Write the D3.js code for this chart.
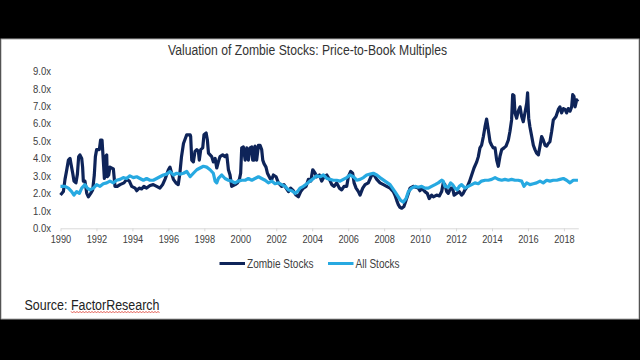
<!DOCTYPE html>
<html><head><meta charset="utf-8">
<script src="https://cdn.jsdelivr.net/npm/d3@7"></script>
<style>
html,body{margin:0;padding:0;background:#000;}
svg{display:block;}
text{font-family:"Liberation Sans Narrow","Arial Narrow","Liberation Sans",Arial,sans-serif;fill:#404040;}
</style></head>
<body><svg id="chart" width="640" height="360"></svg>
<script>
const title = "Valuation of Zombie Stocks: Price-to-Book Multiples";
const seriesNames = ["Zombie Stocks", "All Stocks"];
const yTicks = [0,1,2,3,4,5,6,7,8,9];
const xTicks = [1990,1992,1994,1996,1998,2000,2002,2004,2006,2008,2010,2012,2014,2016,2018];

const zombieYears = [1990.0,1990.16,1990.25,1990.34,1990.44,1990.53,1990.58,1990.68,1990.75,1990.86,1990.94,1991.01,1991.08,1991.18,1991.23,1991.27,1991.36,1991.46,1991.55,1991.68,1991.79,1991.88,1991.94,1992.01,1992.16,1992.23,1992.31,1992.38,1992.44,1992.49,1992.57,1992.6,1992.68,1992.75,1992.94,1993.03,1993.16,1993.31,1993.53,1993.68,1993.83,1993.96,1994.15,1994.24,1994.38,1994.51,1994.64,1994.79,1994.98,1995.16,1995.35,1995.53,1995.68,1995.81,1995.9,1996.0,1996.09,1996.18,1996.28,1996.42,1996.55,1996.64,1996.73,1996.84,1997.02,1997.21,1997.24,1997.3,1997.39,1997.48,1997.58,1997.67,1997.72,1997.8,1997.91,1997.98,1998.1,1998.17,1998.23,1998.41,1998.5,1998.6,1998.69,1998.78,1998.87,1999.02,1999.15,1999.25,1999.34,1999.43,1999.52,1999.71,1999.84,1999.95,2000.02,2000.08,2000.17,2000.27,2000.36,2000.45,2000.54,2000.64,2000.69,2000.77,2000.82,2000.91,2001.01,2001.1,2001.19,2001.25,2001.32,2001.43,2001.51,2001.66,2001.75,2001.84,2001.99,2002.12,2002.3,2002.43,2002.55,2002.68,2002.8,2002.95,2003.1,2003.23,2003.36,2003.51,2003.66,2003.79,2003.92,2004.03,2004.16,2004.25,2004.4,2004.53,2004.66,2004.81,2004.96,2005.09,2005.22,2005.36,2005.51,2005.64,2005.77,2005.92,2006.01,2006.14,2006.25,2006.33,2006.44,2006.57,2006.66,2006.81,2006.94,2007.12,2007.31,2007.44,2007.59,2007.77,2007.96,2008.14,2008.33,2008.51,2008.6,2008.7,2008.79,2008.88,2008.98,2009.1,2009.22,2009.35,2009.44,2009.62,2009.77,2009.9,2009.99,2010.09,2010.27,2010.4,2010.51,2010.64,2010.74,2010.92,2011.07,2011.2,2011.29,2011.38,2011.48,2011.57,2011.7,2011.81,2011.89,2012.03,2012.18,2012.31,2012.4,2012.5,2012.63,2012.74,2012.87,2013.0,2013.15,2013.24,2013.33,2013.42,2013.52,2013.61,2013.7,2013.8,2013.89,2013.98,2014.07,2014.17,2014.26,2014.35,2014.44,2014.54,2014.67,2014.78,2014.91,2015.0,2015.09,2015.15,2015.22,2015.28,2015.37,2015.46,2015.56,2015.65,2015.74,2015.83,2015.93,2015.98,2016.04,2016.11,2016.21,2016.3,2016.39,2016.48,2016.58,2016.67,2016.76,2016.85,2016.95,2017.04,2017.13,2017.22,2017.32,2017.41,2017.56,2017.69,2017.78,2017.87,2017.97,2018.06,2018.15,2018.24,2018.34,2018.43,2018.49,2018.56,2018.62,2018.71,2018.78];
const zombieValues = [1.9,2.1,2.8,3.3,3.9,4.0,3.7,3.15,2.7,2.6,3.1,4.1,4.2,4.0,3.5,2.7,2.7,2.0,1.8,2.0,2.2,3.05,4.1,4.5,4.5,5.05,5.05,3.9,2.85,4.1,4.2,2.95,3.05,3.5,3.4,2.4,2.4,2.5,2.6,2.8,2.7,2.4,2.3,2.15,2.3,2.25,2.4,2.3,2.45,2.5,2.4,2.3,2.5,2.8,3.05,3.35,3.5,3.15,2.8,2.6,2.5,3.15,4.1,4.85,5.35,5.35,5.25,3.9,3.8,4.4,4.5,4.4,3.9,4.5,4.6,5.35,5.45,5.05,4.3,4.1,3.8,4.0,3.45,3.8,4.1,4.2,4.1,4.2,3.35,3.05,2.4,2.5,2.6,2.8,3.15,4.6,4.65,3.9,4.6,3.9,4.6,4.65,3.9,3.9,4.7,3.9,4.75,4.75,4.5,3.9,3.7,3.5,3.15,2.85,2.8,3.05,2.95,2.6,2.4,2.5,2.3,2.1,2.3,2.15,1.9,1.8,2.1,2.3,2.4,2.8,2.7,3.35,3.15,2.95,3.05,2.7,2.95,3.05,2.8,2.5,2.4,2.6,2.3,2.2,2.4,2.4,2.95,3.25,3.15,2.6,2.3,2.1,1.9,2.3,2.5,2.6,3.05,3.05,2.8,2.6,2.5,2.4,2.3,2.1,1.9,1.6,1.35,1.2,1.15,1.25,1.6,2.0,2.3,2.4,2.35,2.3,2.15,2.3,2.1,2.0,1.7,1.9,1.8,1.9,1.85,2.1,2.6,2.5,2.1,2.0,2.3,2.3,1.9,2.0,2.1,1.9,2.0,2.2,2.4,2.65,3.05,3.45,3.8,4.1,4.6,4.75,5.25,5.8,6.25,5.6,4.95,4.75,4.6,4.6,3.9,3.55,4.1,4.5,4.6,4.7,5.05,5.55,6.2,7.65,7.6,6.6,6.3,6.7,6.95,6.4,6.1,6.6,7.15,7.75,6.3,5.8,5.25,4.75,4.5,4.3,4.2,4.7,5.25,5.05,4.75,4.7,4.85,4.95,5.55,6.2,6.4,6.8,6.95,6.6,6.85,6.8,6.6,6.85,6.7,6.95,7.65,7.55,6.95,7.35,7.25];

const allYears = [1990.0,1990.25,1990.44,1990.62,1990.75,1990.9,1991.05,1991.18,1991.36,1991.49,1991.64,1991.83,1992.01,1992.2,1992.38,1992.57,1992.75,1992.94,1993.12,1993.31,1993.49,1993.68,1993.86,1994.05,1994.24,1994.42,1994.61,1994.79,1994.98,1995.16,1995.35,1995.53,1995.72,1995.9,1996.09,1996.28,1996.46,1996.64,1996.84,1997.02,1997.21,1997.39,1997.58,1997.76,1997.95,1998.13,1998.32,1998.5,1998.6,1998.69,1998.78,1998.97,1999.15,1999.34,1999.52,1999.71,1999.89,2000.08,2000.27,2000.45,2000.64,2000.82,2001.01,2001.19,2001.38,2001.56,2001.75,2001.93,2002.12,2002.3,2002.49,2002.68,2002.86,2003.05,2003.18,2003.32,2003.51,2003.7,2003.88,2004.07,2004.25,2004.44,2004.62,2004.81,2004.99,2005.18,2005.36,2005.55,2005.73,2005.92,2006.1,2006.29,2006.48,2006.66,2006.85,2007.03,2007.22,2007.4,2007.59,2007.77,2008.05,2008.33,2008.6,2008.79,2008.92,2009.07,2009.22,2009.35,2009.53,2009.72,2009.9,2010.09,2010.27,2010.46,2010.64,2010.83,2011.01,2011.2,2011.29,2011.38,2011.57,2011.7,2011.81,2011.94,2012.07,2012.18,2012.31,2012.5,2012.68,2012.87,2013.05,2013.24,2013.42,2013.61,2013.8,2013.98,2014.17,2014.35,2014.54,2014.72,2014.91,2015.09,2015.28,2015.46,2015.65,2015.78,2015.93,2016.11,2016.3,2016.48,2016.67,2016.85,2017.04,2017.22,2017.41,2017.6,2017.78,2017.97,2018.15,2018.34,2018.52,2018.78];
const allValues = [2.4,2.4,2.3,2.1,1.9,2.1,2.0,2.3,2.5,2.3,2.2,2.3,2.5,2.4,2.55,2.6,2.7,2.6,2.75,2.8,2.9,2.85,3.0,2.9,2.95,2.85,2.75,2.85,2.75,2.75,2.85,2.95,3.05,3.1,3.25,3.05,3.15,3.1,3.15,3.25,2.95,3.15,3.35,3.45,3.55,3.5,3.35,3.15,2.7,2.6,2.85,3.05,2.85,2.75,2.7,2.6,2.7,2.75,2.75,2.85,2.75,2.85,2.95,2.85,2.75,2.6,2.7,2.55,2.6,2.5,2.4,2.2,2.15,2.0,2.1,2.3,2.4,2.55,2.7,2.85,3.0,2.95,3.05,2.85,2.8,2.75,2.75,2.7,2.8,2.9,3.05,2.95,2.75,2.8,2.9,3.05,3.1,3.15,3.05,2.9,2.7,2.5,2.1,1.8,1.6,1.5,1.7,2.1,2.3,2.4,2.35,2.4,2.3,2.3,2.4,2.5,2.6,2.75,2.7,2.4,2.35,2.6,2.5,2.3,2.2,2.4,2.5,2.3,2.4,2.5,2.6,2.55,2.7,2.75,2.75,2.8,2.9,2.8,2.75,2.8,2.75,2.8,2.75,2.75,2.7,2.4,2.6,2.5,2.55,2.6,2.7,2.6,2.75,2.7,2.75,2.75,2.8,2.85,2.75,2.6,2.75,2.75];

const colors = ["#0e2459", "#27a9e1"];

const svg = d3.select("#chart");
// white panel
svg.append("rect").attr("x",1).attr("y",39).attr("width",638).attr("height",280)
  .attr("fill","#fff").attr("stroke","#a6a6a6").attr("stroke-width",1);

const x = d3.scaleLinear().domain([1990, 2018.8]).range([60.5, 578.3]);
const y = d3.scaleLinear().domain([0, 9]).range([228.3, 71]);

// title
svg.append("text").attr("x",307.5).attr("y",54.5).attr("text-anchor","middle")
  .attr("font-size",14).attr("textLength",279).attr("lengthAdjust","spacingAndGlyphs")
  .style("fill","#333").text(title);

// y axis labels
const yAxis = d3.axisLeft(y).tickValues(yTicks).tickFormat(d => d3.format(".1f")(d) + "x").tickSize(0).tickPadding(0);
const gy = svg.append("g").attr("transform","translate(51,0)").call(yAxis);
gy.select(".domain").remove();
gy.selectAll("text").attr("font-size",11).attr("font-family",null)
  .attr("textLength",18).attr("lengthAdjust","spacingAndGlyphs").style("fill","#404040");

// x axis
const xAxis = d3.axisBottom(x).tickValues(xTicks).tickFormat(d3.format("d")).tickSize(3).tickSizeOuter(0).tickPadding(4);
const gx = svg.append("g").attr("transform","translate(0,228.3)").call(xAxis);
gx.select(".domain").attr("stroke","#d9d9d9");
gx.selectAll(".tick line").attr("stroke","#d9d9d9");
gx.selectAll("text").attr("font-size",11).attr("font-family",null)
  .attr("textLength",20.5).attr("lengthAdjust","spacingAndGlyphs").style("fill","#404040");

// lines
const line = d3.line().x(d => x(d[0])).y(d => y(d[1]));
const zombie = zombieYears.map((t,i) => [t, zombieValues[i]]);
const all = allYears.map((t,i) => [t, allValues[i]]);
svg.append("path").datum(zombie).attr("d", line).attr("fill","none")
  .attr("stroke",colors[0]).attr("stroke-width",3.2).attr("stroke-linejoin","round");
svg.append("path").datum(all).attr("d", line).attr("fill","none")
  .attr("stroke",colors[1]).attr("stroke-width",3.2).attr("stroke-linejoin","round");

// legend
const legendX = [219.5, 328];
const legendW = [66.5, 44];
seriesNames.forEach((name, i) => {
  const g = svg.append("g").attr("transform", `translate(${legendX[i]},263.5)`);
  g.append("line").attr("x1",0).attr("x2",25.5).attr("y1",0).attr("y2",0)
    .attr("stroke",colors[i]).attr("stroke-width",3);
  g.append("text").attr("x",27.5).attr("y",4.3).attr("font-size",12)
    .attr("textLength",legendW[i]).attr("lengthAdjust","spacingAndGlyphs").text(name);
});

// source
svg.append("text").attr("x",24.5).attr("y",309.5).attr("font-size",14)
  .style("fill","#222").attr("textLength",135).attr("lengthAdjust","spacingAndGlyphs")
  .text("Source: FactorResearch");
// spell-check squiggle under "FactorResearch"
const pts = d3.range(71, 161, 1.5).map((px, i) => [px, i % 2 ? 313 : 311.3]);
svg.append("path").attr("d", d3.line()(pts)).attr("fill","none").attr("stroke","#e0453a").attr("stroke-width",0.8);
</script>
</body></html>
